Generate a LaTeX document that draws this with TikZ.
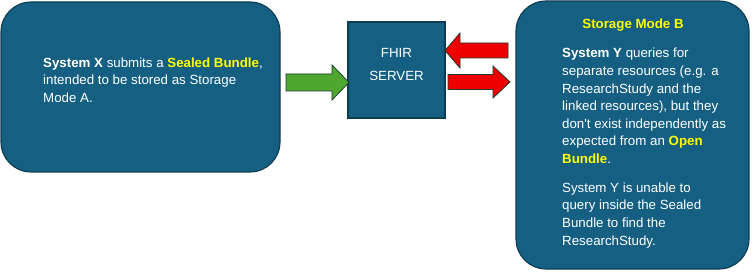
\documentclass[tikz,border=0pt]{standalone}
\usepackage{fontspec}
\setmainfont{Liberation Sans}
\definecolor{boxfill}{HTML}{156082}
\definecolor{boxline}{HTML}{0E3B50}
\definecolor{hilite}{HTML}{FFFF00}
\definecolor{okgreen}{HTML}{4EA72E}
\definecolor{alarm}{HTML}{EE0000}
\definecolor{arrline}{HTML}{1E3A32}

\begin{document}
\begin{tikzpicture}[x=1pt,y=-1pt,font=\fontsize{13.3}{17.6}\selectfont,
box/.style={draw=boxline,line width=1.1pt,fill=boxfill,rounded corners=30pt},
txt/.style={text=white,inner sep=0pt,align=left,anchor=north west},
blockarr/.style={draw=arrline,line width=0.8pt,line join=miter}]
\useasboundingbox (0,0) rectangle (754,272);
% left and right panels, server in between
\draw[box] (1,2) rectangle (280,172);
\draw[box] (516,1) rectangle (749,269);
\draw[box,rounded corners=0pt] (348,22) rectangle (445,118);
\node[txt] (sysx) at (43,57.5) {\textbf{System X} submits a \textbf{\color{hilite}Sealed Bundle},\\intended to be stored as Storage\\Mode A.};
\node[text=white,align=center] (fhir) at (396.5,64.5) {FHIR\\[5.4pt]SERVER};
\node[text=hilite,inner sep=0pt] (modeb) at (633,25) {\textbf{Storage Mode B}};
\node[txt] (sysy) at (562,48) {\textbf{System Y} queries for\\separate resources (e.g. a\\ResearchStudy and the\\linked resources), but they\\don\textquotesingle t exist independently as\\expected from an \textbf{\color{hilite}Open}\\\textbf{\color{hilite}Bundle}.\\[11.3pt]System Y is unable to\\query inside the Sealed\\Bundle to find the\\ResearchStudy.};
% block arrows
\draw[blockarr,fill=okgreen] (286,74) -- (332,74) -- (332,65) -- (349,82.5) -- (332,100) -- (332,91) -- (286,91) -- cycle;
\draw[blockarr,fill=alarm] (508,43) -- (460,43) -- (460,33) -- (445,50.5) -- (460,68) -- (460,58) -- (508,58) -- cycle;
\draw[blockarr,fill=alarm] (448,74.5) -- (493,74.5) -- (493,66) -- (510,82) -- (493,98) -- (493,89.5) -- (448,89.5) -- cycle;
\end{tikzpicture}
\end{document}
